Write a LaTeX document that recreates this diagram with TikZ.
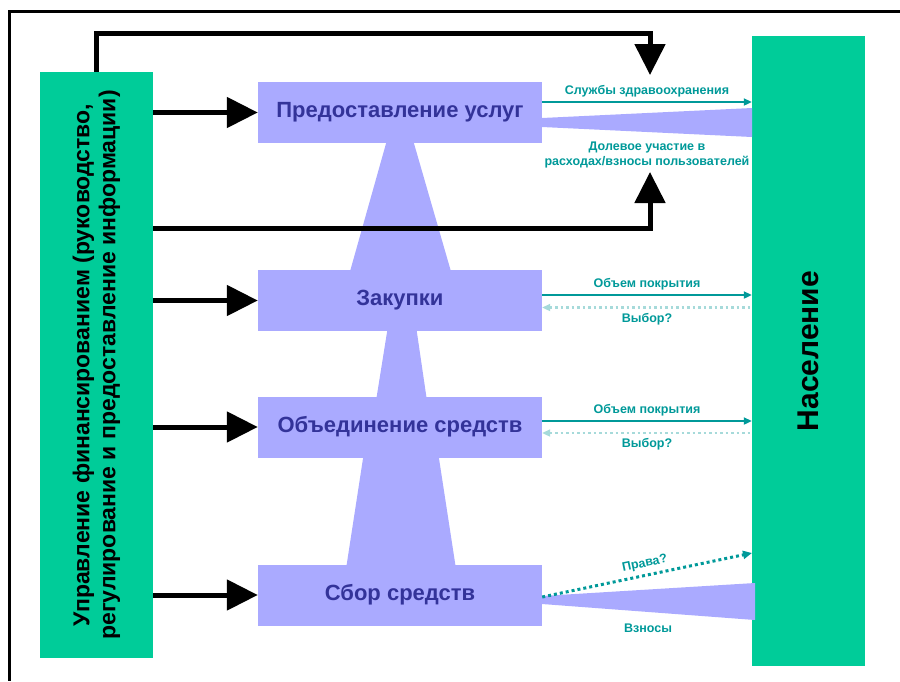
\documentclass[tikz,border=0pt]{standalone}
\usepackage{fontspec}
\setmainfont{Liberation Sans}
\usetikzlibrary{arrows.meta,positioning}
\definecolor{popgreen}{HTML}{00CC99}
\definecolor{boxblue}{HTML}{AAAAFF}
\definecolor{textblue}{HTML}{333399}
\definecolor{tealdark}{HTML}{009999}
\definecolor{teallight}{HTML}{A6DADA}

\begin{document}
\begin{tikzpicture}[x=1pt,y=-1pt,greenbox/.style={fill=popgreen, minimum width=113pt, inner sep=0pt},funcbox/.style={fill=boxblue, minimum width=284pt, minimum height=61pt, text=textblue, font=\bfseries\fontsize{22}{26}\selectfont},bigarrow/.style={line width=5pt, -{Triangle[length=31pt,width=30pt]}},flow/.style={draw=tealdark, line width=2pt, -{Triangle[length=8pt,width=7pt]}},back/.style={draw=teallight, line width=2.5pt, dash pattern=on 2.5pt off 3pt, {Triangle[length=8pt,width=7pt]}-},rights/.style={draw=tealdark, line width=3pt, dash pattern=on 3pt off 3pt, -{Triangle[length=9pt,width=8pt]}},lbl/.style={text=tealdark, font=\bfseries\fontsize{12.5}{14.5}\selectfont, align=center}]
\useasboundingbox (0,0) rectangle (900,681);
\draw[line width=3pt] (900,11.5) -- (9.5,11.5) -- (9.5,681);
\node[greenbox, minimum height=586pt] (gov) at (96.5,365) {};
\node[rotate=90, align=center, font=\bfseries\fontsize{23}{26}\selectfont] (govtext) at (gov.center) {Управление финансированием (руководство,\\регулирование и предоставление информации)};
\node[greenbox, minimum height=630pt] (pop) at (808.5,351) {};
\node[rotate=90, font=\bfseries\fontsize{30}{34}\selectfont] (poptext) at (pop.center) {Население};
% trapezoids between the functions
\fill[boxblue] (387,140) -- (413,140) -- (452,275) -- (349,275) -- cycle;
\fill[boxblue] (388,326) -- (416,326) -- (427,401) -- (376,401) -- cycle;
\fill[boxblue] (364,452) -- (438,452) -- (456,569) -- (346,569) -- cycle;
\node[funcbox] (prov) at (400,112.5) {Предоставление услуг};
\node[funcbox] (purch) at (400,300.5) {Закупки};
\node[funcbox] (pool) at (400,427) {Объединение средств};
\node[funcbox] (coll) at (400,595) {Сбор средств};
% wedges to the population
\fill[boxblue] (542,118) -- (752,108) -- (752,137) -- (542,127) -- cycle;
\fill[boxblue] (542,596) -- (755,583) -- (755,620) -- (542,604) -- cycle;
\coordinate (topin) at (650,75);
\coordinate (botout) at (153,228);
\coordinate (botin) at (650,172);
\coordinate (rightsin) at (752,553);
\draw[bigarrow] (gov.east |- prov.west) -- (prov.west);
\draw[bigarrow] (gov.east |- purch.west) -- (purch.west);
\draw[bigarrow] (gov.east |- pool.west) -- (pool.west);
\draw[bigarrow] (gov.east |- coll.west) -- (coll.west);
\draw[bigarrow] (gov.north) |- (650,33) -- (topin);
\draw[bigarrow] (botout) -| (botin);
\draw[flow] ([yshift=10.5pt]prov.east) coordinate (s1) -- (s1 -| pop.west) node[midway, above=1pt, lbl] {Службы здравоохранения};
\node[lbl] (share) at (647,155) {Долевое участие в\\расходах/взносы пользователей};
\draw[flow] ([yshift=5.5pt]purch.east) coordinate (c1) -- (c1 -| pop.west) node[midway, above=1pt, lbl] {Объем покрытия};
\draw[back] ([yshift=-7pt]purch.east) coordinate (c2) -- (c2 -| pop.west) node[midway, below=1pt, lbl] {Выбор?};
\draw[flow] ([yshift=6pt]pool.east) coordinate (c3) -- (c3 -| pop.west) node[midway, above=1pt, lbl] {Объем покрытия};
\draw[back] ([yshift=-6pt]pool.east) coordinate (c4) -- (c4 -| pop.west) node[midway, below=1pt, lbl] {Выбор?};
\draw[rights] ([yshift=-2pt]coll.east) -- (rightsin) node[midway, sloped, above=1pt, lbl] {Права?};
\node[lbl] (contrib) at (648,628) {Взносы};
\end{tikzpicture}
\end{document}
